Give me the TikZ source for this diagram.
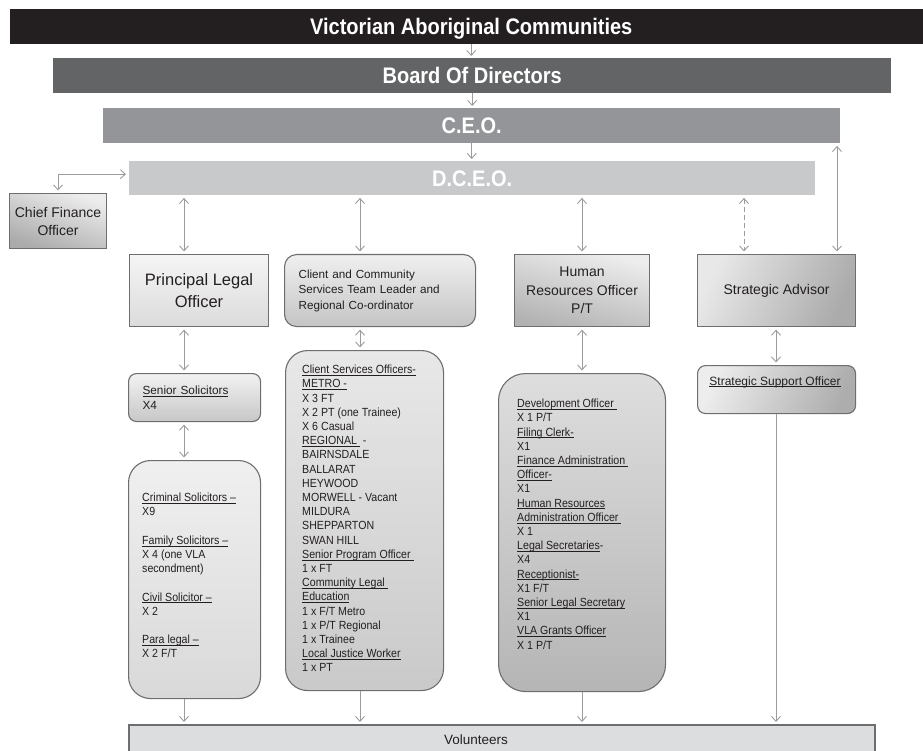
\documentclass[tikz,border=0pt]{standalone}
\usepackage{fontspec}
\setmainfont{Liberation Sans}
\newfontfamily\titlefont{Liberation Sans}[FakeStretch=0.89]
\newfontfamily\listfont{Liberation Sans}[FakeStretch=0.9]
\usetikzlibrary{arrows.meta}
\definecolor{vacblack}{HTML}{231F20}
\definecolor{boardgray}{HTML}{636466}
\definecolor{ceogray}{HTML}{939598}
\definecolor{dceogray}{HTML}{C8C9CB}
\definecolor{boxline}{HTML}{6D6E70}
\definecolor{conncol}{HTML}{9C9C9C}
\definecolor{textcol}{HTML}{231F20}
\definecolor{volfill}{HTML}{DCDDDF}
\newcommand{\myul}[1]{\leavevmode\setbox0=\hbox{#1}\rlap{\rule[-1.8pt]{\wd0}{0.5pt}}\box0}
\begin{document}
\begin{tikzpicture}[x=1pt,y=-1pt,
  bar/.style={anchor=north west, inner sep=0pt, text=white, text height=16pt, text depth=0pt,
    font=\titlefont\bfseries\fontsize{22.5}{25}\selectfont},
  frame/.style={anchor=north west, draw=boxline, line width=1.1pt, inner sep=0pt, text=textcol},
  conn/.style={draw=conncol, line width=0.9pt},
  dbl/.style={conn, {Straight Barb[length=5pt,width=9pt]}-{Straight Barb[length=5pt,width=9pt]}, shorten <=2.5pt, shorten >=2.5pt},
  sgl/.style={conn, -{Straight Barb[length=5pt,width=9pt]}, shorten >=2pt},
  listtxt/.style={anchor=north west, inner sep=0pt, align=left, text=textcol, font=\listfont\fontsize{11.8}{14.2}\selectfont},
]
\useasboundingbox (0,0) rectangle (923,751);

% top bars
\node[bar, fill=vacblack, minimum width=922pt, minimum height=35pt] (vac) at (10,9) {Victorian Aboriginal Communities};
\node[bar, fill=boardgray, minimum width=838pt, minimum height=35pt] (board) at (53,58) {Board Of Directors};
\node[bar, fill=ceogray, minimum width=737pt, minimum height=35pt] (ceo) at (103,108) {C.E.O.};
\node[bar, fill=dceogray, minimum width=686pt, minimum height=34pt] (dceo) at (129,161) {D.C.E.O.};

% column x positions
\coordinate (xa) at (184,0);
\coordinate (xb) at (360,0);
\coordinate (xc) at (582,0);
\coordinate (xd) at (744,0);
\coordinate (xe) at (837,0);
\coordinate (xf) at (776,0);

% second level
\node[frame, top color=white!93!black, bottom color=black!33, shading angle=-20,
  minimum width=97pt, minimum height=55pt, align=center, font=\fontsize{14}{18}\selectfont] (cfo) at (9,193) {Chief Finance\\Officer};
\node[frame, top color=white!96!black, bottom color=white!86!black,
  minimum width=139pt, minimum height=72pt, align=center, font=\fontsize{16.5}{22}\selectfont] (plo) at (129,254) {Principal Legal\\Officer};
\node[frame, rounded corners=12pt, top color=white!94!black, bottom color=white!77!black,
  minimum width=191pt, minimum height=72pt, inner xsep=14pt, text width=163pt, align=left,
  font=\fontsize{11.7}{15.5}\selectfont] (ccs) at (284,254) {Client and Community\\Services Team Leader and\\Regional Co-ordinator};
\node[frame, top color=white!93!black, bottom color=white!70!black, shading angle=-15,
  minimum width=135pt, minimum height=72pt, align=center, font=\fontsize{14}{18.5}\selectfont] (hr) at (514,254) {Human\\Resources Officer\\P/T};
\node[frame, left color=white!91!black, right color=white!67!black, shading angle=65,
  minimum width=158pt, minimum height=72pt, font=\fontsize{14}{18}\selectfont] (sa) at (697,254) {Strategic Advisor};

% third level
\node[frame, rounded corners=8pt, top color=white!95!black, bottom color=white!78!black,
  minimum width=132pt, minimum height=48pt, inner xsep=14pt, text width=104pt, align=left,
  font=\fontsize{11.8}{14.5}\selectfont] (ss) at (128,373) {\myul{Senior Solicitors}\\X4};
\node[frame, rounded corners=8pt, left color=white!93!black, right color=white!68!black, shading angle=70,
  minimum width=158pt, minimum height=48pt] (sso) at (697,365) {};
\node[inner sep=0pt, text=textcol, font=\fontsize{12}{14}\selectfont] (ssotxt) at (775,382) {\myul{Strategic Support Officer}};

% list boxes
\node[frame, rounded corners=22pt, top color=white!94!black, bottom color=white!85!black,
  minimum width=132pt, minimum height=238pt] (lbox) at (128,460) {};
\node[listtxt] (ltxt) at (142,493) {\myul{Criminal Solicitors –}\\X9\\[14.2pt]\myul{Family Solicitors –}\\X 4 (one VLA\\secondment)\\[14.2pt]\myul{Civil Solicitor –}\\X 2\\[14.2pt]\myul{Para legal –}\\X 2 F/T};

\node[frame, rounded corners=22pt, top color=white!91!black, bottom color=white!79!black,
  minimum width=158pt, minimum height=340pt] (clist) at (285,350) {};
\node[listtxt] (ctxt) at (302,365) {\myul{Client Services Officers-}\\\myul{METRO -}\\X 3 FT\\X 2 PT (one Trainee)\\X 6 Casual\\\myul{REGIONAL\ }\ -\\BAIRNSDALE\\BALLARAT\\HEYWOOD\\MORWELL - Vacant\\MILDURA\\SHEPPARTON\\SWAN HILL\\\myul{Senior Program Officer\ }\\1 x FT\\\myul{Community Legal\ }\\\myul{Education}\\1 x F/T Metro\\1 x P/T Regional\\1 x Trainee\\\myul{Local Justice Worker}\\1 x PT};

\node[frame, rounded corners=27pt, top color=white!87!black, bottom color=white!71!black,
  minimum width=167pt, minimum height=318pt] (hlist) at (498,373) {};
\node[listtxt] (htxt) at (517,399) {\myul{Development Officer\ }\\X 1 P/T\\\myul{Filing Clerk-}\\X1\\\myul{Finance Administration\ }\\\myul{Officer-}\\X1\\\myul{Human Resources}\\\myul{Administration Officer\ }\\X 1\\\myul{Legal Secretaries}-\\X4\\\myul{Receptionist-}\\X1 F/T\\\myul{Senior Legal Secretary}\\X1\\\myul{VLA Grants Officer}\\X 1 P/T};

% volunteers
\node[anchor=north west, fill=volfill, draw=boxline, line width=2pt, minimum width=746pt, minimum height=40pt] (vol) at (128,724) {};
\node[inner sep=0pt, text=textcol, font=\fontsize{13.5}{16}\selectfont] (voltxt) at (476,740) {Volunteers};

% connectors
\draw[sgl] (vac.south) -- (vac.south |- board.north);
\draw[sgl] (board.south) -- (board.south |- ceo.north);
\draw[sgl] (ceo.south) -- (ceo.south |- dceo.north);
\draw[dbl, shorten >=3pt] (cfo.north) |- ([yshift=4pt]dceo.west);
\draw[dbl] (dceo.south -| xa) -- (plo.north -| xa);
\draw[dbl] (dceo.south -| xb) -- (ccs.north -| xb);
\draw[dbl] (dceo.south -| xc) -- (hr.north -| xc);
\draw[dbl, dash pattern=on 5pt off 3pt] (dceo.south -| xd) -- (sa.north -| xd);
\draw[dbl] (ceo.south -| xe) -- (sa.north -| xe);
\draw[dbl] (plo.south -| xa) -- (ss.north -| xa);
\draw[dbl] (ss.south -| xa) -- (lbox.north -| xa);
\draw[dbl] (ccs.south -| xb) -- (clist.north -| xb);
\draw[dbl] (hr.south -| xc) -- (hlist.north -| xc);
\draw[dbl] (sa.south -| xf) -- (sso.north -| xf);
\draw[sgl] (lbox.south -| xa) -- (vol.north -| xa);
\draw[sgl] (clist.south -| xb) -- (vol.north -| xb);
\draw[sgl] (hlist.south -| xc) -- (vol.north -| xc);
\draw[sgl] (sso.south -| xf) -- (vol.north -| xf);
\end{tikzpicture}
\end{document}
